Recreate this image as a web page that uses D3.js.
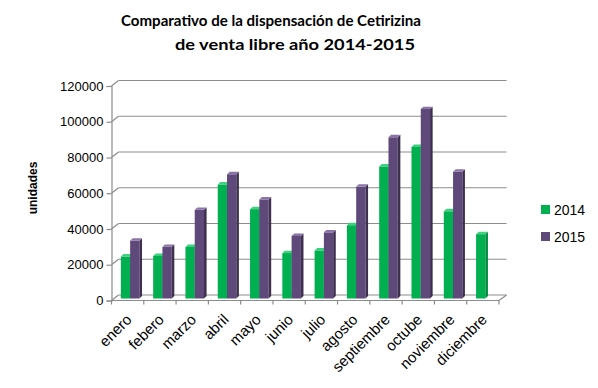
<!DOCTYPE html>
<html><head><meta charset="utf-8">
<script src="https://cdn.jsdelivr.net/npm/d3@7/dist/d3.min.js"></script>
<style>
body{margin:0;background:#fff;}
svg{display:block;font-family:"Liberation Sans",Arial,sans-serif;}
</style></head>
<body><svg id="c" width="598" height="388"></svg>
<script>
const months = ["enero","febero","marzo","abril","mayo","junio","julio","agosto","septiembre","octube","noviembre","diciembre"];
const seriesNames = ["2014","2015"];
const values2014 = [23500,23800,28800,63800,50000,25400,26900,41000,73900,84800,48800,36000];
const values2015 = [32300,28900,49600,69500,55400,35000,37000,62600,90200,106000,70900,null];
const yTicks = [0,20000,40000,60000,80000,100000,120000];
const colors = {"2014":{front:"#00B050",side:"#008C3F",top:"#3ED07E"},
                "2015":{front:"#5F497A",side:"#3F3052",top:"#8A74A6"}};

const svg = d3.select("#c");
const g = svg.append("g");

// geometry
const fx0 = 111.5, fx1 = 499, fy0 = 300.5, fy1 = 86;
const dep = {x:7, y:-5.5};
const barOff = {x:2.5, y:-2};
const barDepth = {x:2.6, y:-2.4};

const yFront = d3.scaleLinear().domain([0,120000]).range([fy0, fy1]);
const yBack = d3.scaleLinear().domain([0,120000]).range([fy0+dep.y, fy1+dep.y]);
const yBar = d3.scaleLinear().domain([0,120000]).range([fy0+barOff.y, fy1+barOff.y]);
const x0 = d3.scaleBand().domain(months).range([fx0, fx1]).paddingInner(0).paddingOuter(0);
const x1 = d3.scaleBand().domain(seriesNames).range([0, x0.bandwidth()]).paddingInner(0).paddingOuter(0.74);

const grid = "#8C8C8C";
// back wall gridlines
yTicks.forEach(v=>{
  g.append("line").attr("x1",fx0+dep.x).attr("x2",fx1+dep.x+0.5)
   .attr("y1",yBack(v)).attr("y2",yBack(v)).attr("stroke",grid).attr("stroke-width",1.2);
  g.append("line").attr("x1",fx0).attr("y1",yFront(v))
   .attr("x2",fx0+dep.x).attr("y2",yBack(v)).attr("stroke",grid).attr("stroke-width",1.2);
});
// front floor line + right diagonal
g.append("line").attr("x1",fx0).attr("x2",fx1).attr("y1",fy0).attr("y2",fy0).attr("stroke",grid).attr("stroke-width",1.2);
g.append("line").attr("x1",fx1).attr("y1",fy0).attr("x2",fx1+dep.x+0.5).attr("y2",fy0+dep.y).attr("stroke",grid).attr("stroke-width",1.2);

// y axis
const yAxis = d3.axisLeft(yFront).tickValues(yTicks).tickSize(5).tickPadding(3).tickFormat(d3.format("d"));
const ya = g.append("g").attr("transform",`translate(${fx0},0)`).call(yAxis);
ya.select(".domain").attr("stroke",grid).attr("stroke-width",1.2);
ya.selectAll(".tick line").attr("stroke",grid).attr("stroke-width",1.2);
ya.selectAll(".tick text").attr("font-size","13px").attr("fill","#000").attr("font-family","Liberation Sans, Arial, sans-serif").attr("x",-8);

// x axis
const xAxis = d3.axisBottom(x0).tickSize(0).tickFormat(d=>d);
const xa = g.append("g").attr("transform",`translate(0,${fy0})`).call(xAxis);
xa.select(".domain").remove();
const bounds = months.map(m=>x0(m)).concat([fx1]);
bounds.forEach(b=>{
  g.append("line").attr("x1",b).attr("x2",b).attr("y1",fy0).attr("y2",fy0+4).attr("stroke",grid).attr("stroke-width",1.2);
});
xa.selectAll(".tick text")
  .attr("font-size","15px").attr("fill","#000").attr("font-family","Liberation Sans, Arial, sans-serif")
  .attr("text-anchor","end").attr("y",0).attr("dy","0")
  .attr("transform","translate(5,20) rotate(-45)");

// bars
const data = [];
months.forEach((m,i)=>{
  [["2014",values2014[i]],["2015",values2015[i]]].forEach(([s,v])=>{
    if(v!=null) data.push({m,s,v});
  });
});
const bars = g.append("g").selectAll("g.bar").data(data).join("g").attr("class","bar");
bars.each(function(d){
  const el = d3.select(this);
  const xl = x0(d.m) + x1(d.s) + barOff.x;
  const xr = xl + x1.bandwidth();
  const yt = yBar(d.v), yb = yBar(0);
  const c = colors[d.s];
  el.append("rect").attr("x",xl).attr("y",yt).attr("width",xr-xl).attr("height",yb-yt).attr("fill",c.front);
  el.append("path").attr("d",`M${xr},${yb}L${xr+barDepth.x},${yb+barDepth.y}L${xr+barDepth.x},${yt+barDepth.y}L${xr},${yt}Z`).attr("fill",c.side);
  el.append("path").attr("d",`M${xl},${yt}L${xl+barDepth.x},${yt+barDepth.y}L${xr+barDepth.x},${yt+barDepth.y}L${xr},${yt}Z`).attr("fill",c.top);
});

// title
svg.append("text").attr("x",271).attr("y",26).attr("text-anchor","middle")
  .attr("font-family","Lato, 'Liberation Sans', sans-serif")
  .attr("font-size","15.5px").attr("font-weight","bold").attr("fill","#000")
  .attr("textLength",300).attr("lengthAdjust","spacingAndGlyphs")
  .text("Comparativo de la dispensación de Cetirizina");
svg.append("text").attr("x",295).attr("y",50).attr("text-anchor","middle")
  .attr("font-family","Lato, 'Liberation Sans', sans-serif")
  .attr("font-size","15.5px").attr("font-weight","bold").attr("fill","#000")
  .attr("textLength",240).attr("lengthAdjust","spacingAndGlyphs")
  .text("de venta libre año  2014-2015");

// y title
svg.append("text").attr("transform","translate(37,188) rotate(-90)").attr("text-anchor","middle")
  .attr("font-size","12px").attr("font-weight","bold").attr("fill","#000").text("unidades");

// legend
const lg = svg.append("g");
seriesNames.forEach((s,i)=>{
  const yy = 205 + i*27;
  lg.append("rect").attr("x",541).attr("y",yy).attr("width",9).attr("height",9).attr("fill",colors[s].front);
  lg.append("text").attr("x",554).attr("y",yy+9.5).attr("font-size","14px").attr("fill","#000").text(s);
});
</script></body></html>
